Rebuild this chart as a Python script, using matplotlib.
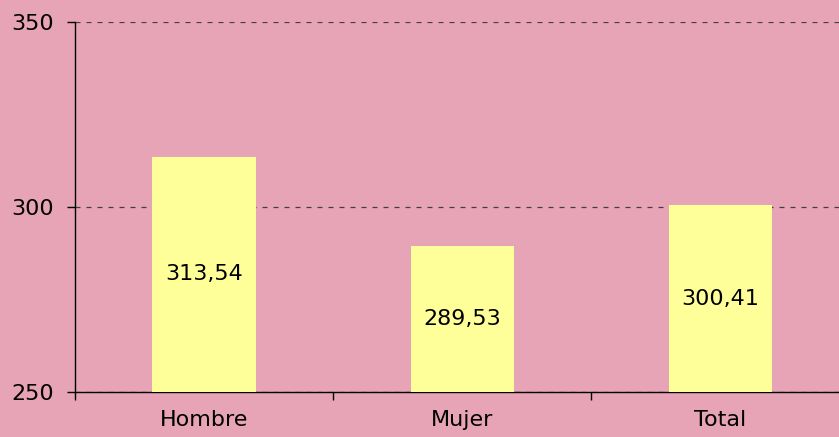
import matplotlib.pyplot as plt
import numpy as np

CATEGORIES = ['Hombre', 'Mujer', 'Total']
VALUES = [313.54, 289.53, 300.41]
Y_TICKS = [250, 300, 350]

BG = '#E8A4B7'
BAR = '#FFFF99'

fig = plt.figure(figsize=(8.39, 4.37), dpi=100, facecolor=BG)
ax = fig.add_axes([75 / 839, 45 / 437, 774.5 / 839, 370 / 437])
ax.set_facecolor(BG)

x = np.arange(len(CATEGORIES))
bars = ax.bar(x, VALUES, width=0.4, color=BAR, zorder=3)

# value labels in the middle of each bar
for xi, v in zip(x, VALUES):
    ax.text(xi, (v + 250) / 2, f'{v:.2f}'.replace('.', ','), ha='center', va='center',
            fontsize=16, color='black', zorder=4)

ax.set_xlim(-0.5, 2.5)
ax.set_ylim(250, 350)
ax.set_yticks(Y_TICKS)
ax.set_yticklabels([str(t) for t in Y_TICKS], fontsize=16)
ax.yaxis.grid(True, linestyle=(0, (4, 4.8)), color='#404040', linewidth=0.9, zorder=1)

ax.set_xticks(x)
ax.set_xticklabels(CATEGORIES, fontsize=16)
ax.tick_params(axis='x', which='major', length=0, pad=13)
ax.set_xticks([-0.5, 0.5, 1.5, 2.5], minor=True)
ax.tick_params(axis='x', which='minor', length=6, direction='out', width=1)
ax.tick_params(axis='y', length=6, direction='out', width=1, pad=9)

for s in ['top', 'right']:
    ax.spines[s].set_visible(False)
for s in ['left', 'bottom']:
    ax.spines[s].set_color('black')
    ax.spines[s].set_linewidth(1)

fig.savefig('out.png', dpi=100, facecolor=BG)
